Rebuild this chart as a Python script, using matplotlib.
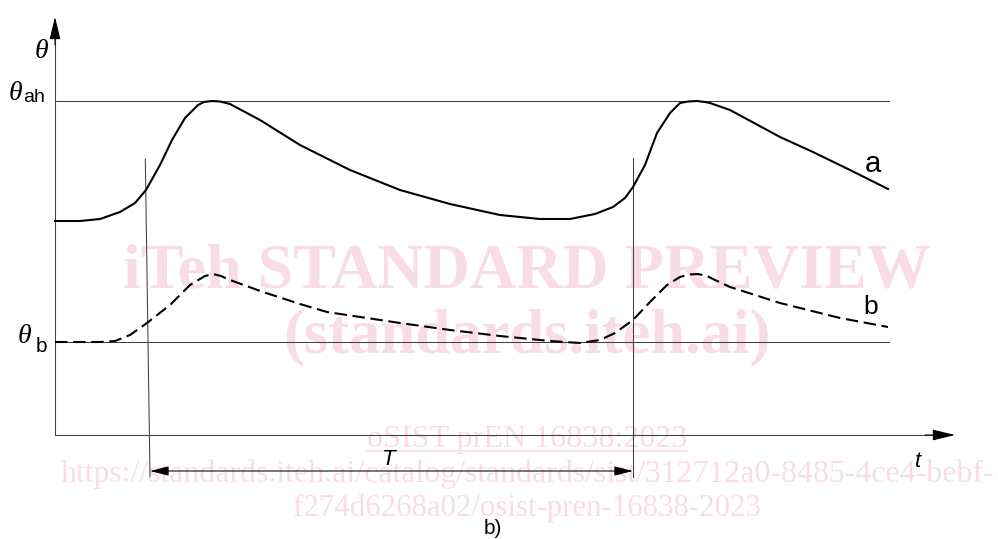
"""Temperature cycle sketch: curves a and b with period T."""

import matplotlib
matplotlib.use("Agg")
import matplotlib.pyplot as plt

# time axis in arbitrary units, temperature in arbitrary units
T_A = [0, 2.5, 4.5, 6.5, 8.0, 9.1, 10.5, 11.7, 13.0, 14.3, 14.9, 15.7, 16.5,
       17.5, 20.5, 24.5, 29.5, 34.5, 39.5, 44.5, 48.5, 51.5, 54.0, 55.8, 57.0,
       57.8, 59.0, 60.2, 61.5, 62.5, 63.3, 64.2, 65.0, 65.5, 67.5, 72.5, 75.8,
       79.5, 83.3]
THETA_A = [21.4, 21.4, 21.6, 22.3, 23.2, 24.5, 27.0, 29.5, 31.7, 33.0, 33.3,
           33.4, 33.35, 33.1, 31.5, 29.0, 26.5, 24.5, 23.1, 22.0, 21.6, 21.6,
           22.1, 22.8, 23.7, 24.8, 27.0, 30.2, 32.2, 33.2, 33.35, 33.4, 33.3,
           33.2, 32.5, 29.8, 28.3, 26.5, 24.6]

T_B = [0, 4.5, 6.0, 7.5, 9.2, 11.5, 13.5, 15.0, 15.8, 16.6, 17.5, 20.8, 24.5,
       27.2, 34.5, 39.5, 44.5, 49.5, 52.5, 54.5, 56.0, 57.8, 59.5, 61.2, 62.5,
       63.4, 64.3, 65.2, 66.0, 67.5, 72.5, 78.5, 83.3]
THETA_B = [9.3, 9.3, 9.4, 10.0, 11.2, 13.0, 15.0, 15.9, 16.1, 15.9, 15.5, 14.3,
           13.1, 12.3, 11.2, 10.5, 9.9, 9.4, 9.2, 9.5, 10.2, 11.5, 13.3, 15.0,
           15.8, 16.05, 16.1, 15.9, 15.5, 14.8, 13.2, 11.7, 10.8]

THETA_AH = 33.4
THETA_BASE = 9.3
T_END = 83.4
PERIOD_START = (9.03, 9.5)   # slightly slanted marker line (top, bottom)
PERIOD_END = 57.8

WATERMARK = [
    ("iTeh STANDARD PREVIEW", 14.8, 805, "bold"),
    ("(standards.iteh.ai)", 8.3, 490, "bold"),
    ("oSIST prEN 16838:2023", -1.2, 320, "normal"),
    ("https://standards.iteh.ai/catalog/standards/sist/312712a0-8485-4ce4-bebf-", -4.7, 937, "normal"),
    ("f274d6268a02/osist-pren-16838-2023", -8.1, 468, "normal"),
]

LINE = "#404040"
PINK = "#f9dde4"
SANS = "Liberation Sans"
SERIF = "Liberation Serif"


def arrow_head(ax, start, tip, length, width):
    ax.annotate("", xy=tip, xytext=start,
                arrowprops=dict(arrowstyle=f"-|>,head_length={length},head_width={width}",
                                mutation_scale=1, color="black", lw=0.75,
                                shrinkA=0, shrinkB=0))


def main():
    fig = plt.figure(figsize=(9.98, 5.39), dpi=100)
    ax = fig.add_axes([0, 0, 1, 1])
    ax.set_xlim(-5.5, 94.3)
    ax.set_ylim(-10.4, 43.5)
    ax.axis("off")

    renderer = fig.canvas.get_renderer()

    # watermark behind the drawing
    for text, base, width_px, weight in WATERMARK:
        t = ax.text(47.2, base, text, fontsize=10, ha="center", va="baseline",
                    family=SERIF, weight=weight, color=PINK, zorder=0)
        w = t.get_window_extent(renderer).width
        t.set_fontsize(10 * width_px / w)
        if text.startswith("oSIST"):
            bb = t.get_window_extent(renderer).transformed(ax.transData.inverted())
            ax.plot([bb.x0, bb.x1], [base - 0.35, base - 0.35], color=PINK, lw=1.2, zorder=0)

    # axes with arrows
    ax.plot([0, 0], [0, 40], color=LINE, lw=0.75)
    ax.plot([0, 88], [0, 0], color=LINE, lw=0.75)
    arrow_head(ax, (0, 39), (0, 41.8), 14, 3.4)
    arrow_head(ax, (87, 0), (90, 0), 14, 3.4)

    # reference levels
    ax.plot([0, T_END], [THETA_AH, THETA_AH], color=LINE, lw=0.75)
    ax.plot([0, T_END], [THETA_BASE, THETA_BASE], color=LINE, lw=0.75)

    # period markers
    ax.plot(list(PERIOD_START), [27.6, -4.2], color=LINE, lw=0.75)
    ax.plot([PERIOD_END, PERIOD_END], [27.7, -4.2], color=LINE, lw=0.75)
    ax.annotate("", xy=(PERIOD_START[1], -3.6), xytext=(PERIOD_END, -3.6),
                arrowprops=dict(arrowstyle="<|-|>,head_length=11.5,head_width=2.9",
                                mutation_scale=1, color="black", lw=0.75,
                                shrinkA=0, shrinkB=0))

    # curves
    ax.plot(T_A, THETA_A, color="black", lw=1.5, solid_joinstyle="round")
    ax.plot(T_B, THETA_B, color="black", lw=1.5, linestyle=(0, (6.0, 2.7)))

    # labels
    ax.text(-2.0, 37.7, "θ", fontsize=20, style="italic", family=SERIF, va="baseline")
    ax.text(-4.6, 33.5, "θ", fontsize=20, style="italic", family=SERIF, va="baseline")
    ax.text(-3.2, 33.3, "ah", fontsize=14, family=SANS, va="baseline")
    ax.text(-3.7, 9.2, "θ", fontsize=20, style="italic", family=SERIF, va="baseline")
    ax.text(-1.9, 8.3, "b", fontsize=15, family=SANS, va="baseline")
    ax.text(81.0, 26.3, "a", fontsize=21, family=SANS, va="baseline")
    ax.text(80.8, 12.1, "b", fontsize=19, family=SANS, va="baseline")
    ax.text(86.0, -3.2, "t", fontsize=16, style="italic", family=SANS, va="baseline")
    ax.text(32.7, -3.0, "T", fontsize=16, style="italic", family=SANS, va="baseline")
    ax.text(42.9, -9.9, "b)", fontsize=15, family=SANS, va="baseline")

    fig.savefig("out.png", dpi=100)
    plt.close(fig)


if __name__ == "__main__":
    main()
